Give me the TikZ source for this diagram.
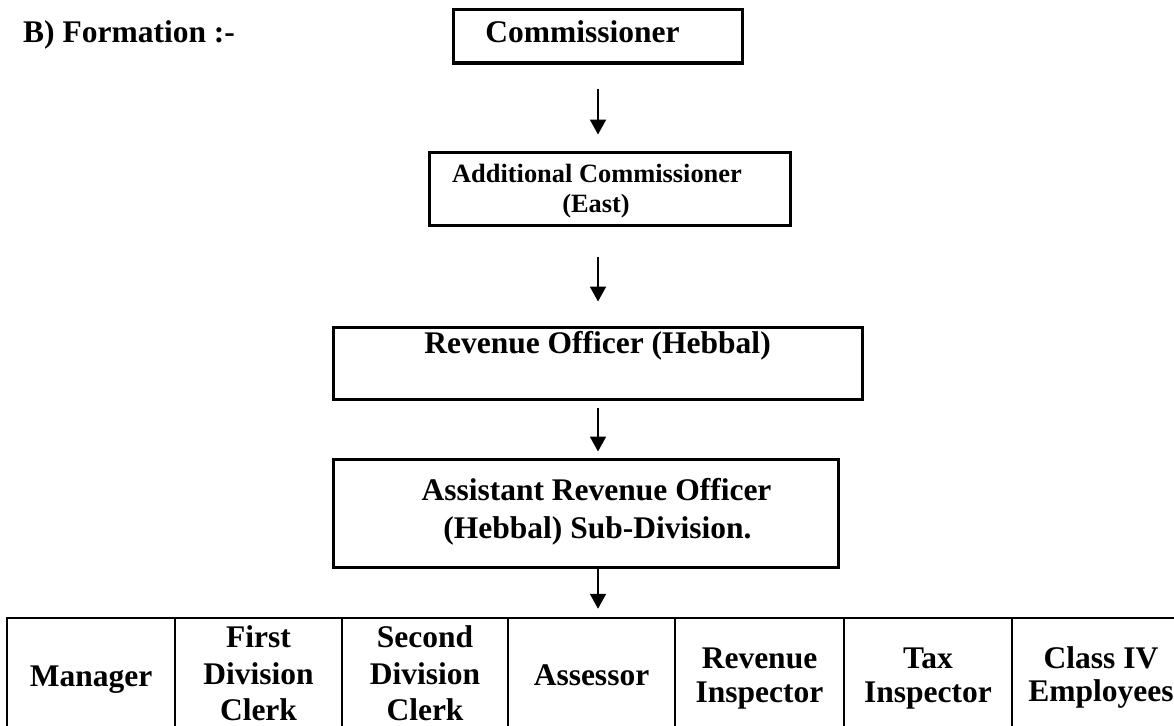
\documentclass[tikz,border=0pt]{standalone}
\usepackage{fontspec}
\setmainfont{Liberation Serif}
\usetikzlibrary{arrows.meta,calc}
\begin{document}
\begin{tikzpicture}[x=1pt,y=-1pt,
  box/.style={draw,line width=3pt,rectangle,inner sep=0pt},
  cell/.style={draw,line width=2.5pt,rectangle,inner sep=0pt,minimum height=150pt},
  big/.style={font=\bfseries\fontsize{31.5}{37}\selectfont,inner sep=0pt,anchor=base},
  mid/.style={font=\bfseries\fontsize{26.4}{31}\selectfont,inner sep=0pt,anchor=base},
  arr/.style={line width=2pt,-{Triangle[width=16pt,length=15pt]}}]
\useasboundingbox (0,0) rectangle (1174,725);
\clip (0,0) rectangle (1174,725);

% title
\node[big,anchor=base west] (title) at (23,42) {B) Formation :-};

% hierarchy boxes
\node[box,minimum width=289pt,minimum height=53pt] (comm) at (597.5,36.5) {};
\node[box,minimum width=361pt,minimum height=73pt] (addl) at (609.5,188.5) {};
\node[box,minimum width=529pt,minimum height=72pt] (rev) at (597.5,363) {};
\node[box,minimum width=505pt,minimum height=108pt] (aro) at (585.5,513) {};

\node[big] (tcomm) at (582.5,42) {Commissioner};
\node[mid] (taddl1) at (597,182) {Additional Commissioner};
\node[mid] (taddl2) at (596,212) {(East)};
\node[big] (trev) at (597.5,353) {Revenue Officer (Hebbal)};
\node[big] (taro1) at (596.5,500) {Assistant Revenue Officer};
\node[big] (taro2) at (597.5,538) {(Hebbal) Sub-Division.};

% table cells
\node[cell,minimum width=168pt] (c1) at (91,693) {};
\node[cell,minimum width=167pt] (c2) at (258.5,693) {};
\node[cell,minimum width=166pt] (c3) at (425,693) {};
\node[cell,minimum width=167pt] (c4) at (591.5,693) {};
\node[cell,minimum width=169pt] (c5) at (759.5,693) {};
\node[cell,minimum width=168pt] (c6) at (928,693) {};
\node[cell,minimum width=178pt] (c7) at (1101,693) {};

\node[big] (m1) at (91,686) {Manager};
\node[big] (f1) at (258.5,647) {First};
\node[big] (f2) at (258.5,684) {Division};
\node[big] (f3) at (258.5,720) {Clerk};
\node[big] (s1) at (425,647) {Second};
\node[big] (s2) at (425,684) {Division};
\node[big] (s3) at (425,720) {Clerk};
\node[big] (a1) at (591.5,685) {Assessor};
\node[big] (r1) at (759.5,668) {Revenue};
\node[big] (r2) at (759.5,702) {Inspector};
\node[big] (x1) at (928,668) {Tax};
\node[big] (x2) at (928,702) {Inspector};
\node[big] (k1) at (1101,668) {Class IV};
\node[big] (k2) at (1101,701) {Employees};

% arrows
\draw[arr] ($(comm.south)+(0.5,24)$) -- ($(addl.north)+(-11.5,-16)$);
\draw[arr] ($(addl.south)+(-11.5,30)$) -- ($(rev.north)+(0.5,-24)$);
\draw[arr] ($(rev.south)+(0.5,7)$) -- ($(aro.north)+(12.5,-6)$);
\draw[arr] ($(aro.south)+(12.5,0)$) -- ($(c4.north)+(6.5,-8)$);
\end{tikzpicture}
\end{document}
